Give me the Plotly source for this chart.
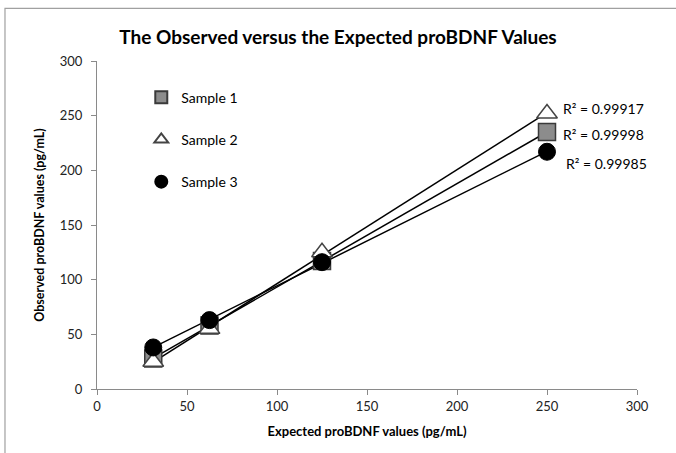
import numpy as np
import plotly.graph_objects as go

expected = [31.25, 62.5, 125, 250]
sample1 = [28, 58, 117, 235]
sample2 = [25, 55, 125, 252]
sample3 = [38, 63, 116, 217]
r2_labels = ["R² = 0.99998", "R² = 0.99917", "R² = 0.99985"]
names = ["Sample 1", "Sample 2", "Sample 3"]

FONT = "Lato"
fig = go.Figure()

styles = [
    dict(symbol="square", color="#8c8c8c", line=dict(color="#3a3a3a", width=1.5), size=17),
    dict(symbol="triangle-up", color="white", line=dict(color="#444444", width=1.5), size=18),
    dict(symbol="circle", color="black", line=dict(color="black", width=1), size=17),
]

series = [sample1, sample2, sample3]
xs = np.array(expected)
# linear trendlines (drawn under the markers)
for ys in series:
    k, b = np.polyfit(xs, np.array(ys), 1)
    xl = [xs.min(), xs.max()]
    fig.add_trace(go.Scatter(x=xl, y=[k * v + b for v in xl], mode="lines",
                             line=dict(color="black", width=1.5),
                             showlegend=False, hoverinfo="skip"))

for i, (ys, st) in enumerate(zip(series, styles)):
    fig.add_trace(go.Scatter(x=expected, y=ys, mode="markers", name=names[i],
                             legendgroup=names[i],
                             marker=dict(symbol=st["symbol"], color=st["color"],
                                         line=st["line"], size=st["size"])))

# R² labels near the last points
ann_pos = [(258, 233), (258, 257), (259.5, 206)]
for txt, (ax, ay) in zip(r2_labels, ann_pos):
    fig.add_annotation(x=ax, y=ay, text=txt, showarrow=False, xanchor="left",
                       yanchor="middle", font=dict(family=FONT, size=14, color="black"))

fig.add_shape(type="rect", xref="paper", yref="paper",
              x0=-0.1704, x1=2, y0=-1, y1=1.1605,
              line=dict(color="#a0a0a0", width=1.2), fillcolor="rgba(0,0,0,0)")

axis_common = dict(showgrid=False, zeroline=False, showline=True, linecolor="#8a8a8a",
                   linewidth=1.2, ticks="outside", ticklen=5, tickcolor="#8a8a8a",
                   tickfont=dict(family=FONT, size=13, color="#222222"))

fig.update_layout(
    width=676, height=453,
    margin=dict(l=97, r=39, t=61, b=64),
    paper_bgcolor="white", plot_bgcolor="white",
    title=dict(text="<b>The Observed versus the Expected proBDNF Values</b>",
               x=0.5, xanchor="center", y=1 - 37 / 453, yanchor="middle",
               font=dict(family=FONT, size=19, color="black")),
    xaxis=dict(range=[0, 300], dtick=50, **axis_common,
               title=dict(text="<b>Expected proBDNF values (pg/mL)</b>", standoff=14,
                          font=dict(family=FONT, size=13, color="black"))),
    yaxis=dict(range=[0, 300], dtick=50, ticklabelstandoff=6, **axis_common,
               title=dict(text="<b>Observed proBDNF values (pg/mL)</b>", standoff=12,
                          font=dict(family=FONT, size=12.5, color="black"))),
    legend=dict(x=0.082, y=0.937, xanchor="left", yanchor="top", bgcolor="rgba(0,0,0,0)",
                tracegroupgap=21, font=dict(family=FONT, size=14, color="black"),
                itemsizing="constant"),
    showlegend=True,
)

fig.write_html("out.html", config={"displayModeBar": False},
               post_script="document.body.style.margin='0';")
